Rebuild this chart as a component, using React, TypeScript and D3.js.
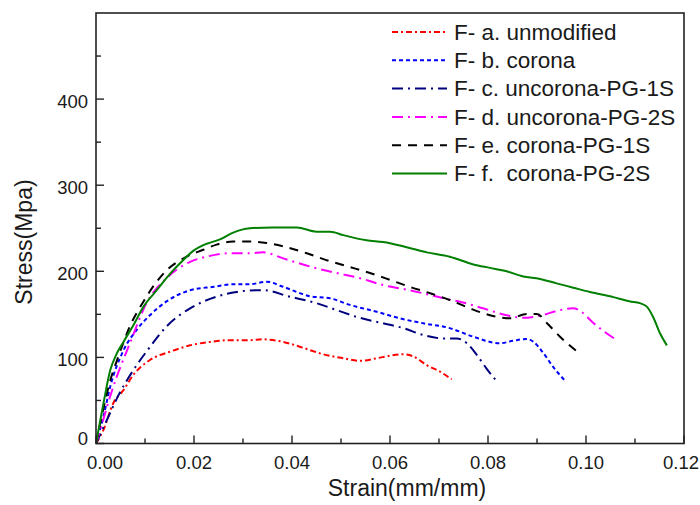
import React from "react";
import * as d3 from "d3";

// ---- data ----
const seriesNames = [
  "F- a. unmodified",
  "F- b. corona",
  "F- c. uncorona-PG-1S",
  "F- d. uncorona-PG-2S",
  "F- e. corona-PG-1S",
  "F- f.  corona-PG-2S",
];

const strainA = [0, 0.0015, 0.0035, 0.0056, 0.0076, 0.011, 0.0151, 0.0192, 0.0233, 0.0273, 0.0314, 0.0341, 0.0382, 0.0416, 0.0464, 0.0505, 0.0539, 0.0573, 0.06, 0.0627, 0.0648, 0.0675, 0.0702, 0.0726];
const stressA = [0, 15.5, 46.5, 62, 79.5, 97, 106.6, 114, 118, 120, 120, 121, 118, 112.4, 103.6, 99, 96, 99, 102, 103.6, 101, 91, 83.4, 74.6];

const strainB = [0, 0.0015, 0.0029, 0.0056, 0.0083, 0.011, 0.0144, 0.0192, 0.024, 0.028, 0.0314, 0.0348, 0.0382, 0.0437, 0.0478, 0.0518, 0.0573, 0.062, 0.0668, 0.0722, 0.077, 0.0824, 0.0852, 0.0879, 0.0893, 0.0913, 0.0933, 0.0957];
const stressB = [0, 31, 66, 108, 132, 149, 165, 178, 182, 185, 185, 188, 182, 171, 168.6, 161, 153, 145.4, 139.6, 134, 124, 116.4, 119.4, 121.4, 118, 105, 89, 73];

const strainC = [0, 0.0022, 0.0045, 0.0076, 0.011, 0.0144, 0.0192, 0.0246, 0.0287, 0.0328, 0.0341, 0.0396, 0.045, 0.0491, 0.0532, 0.0586, 0.0627, 0.0668, 0.0709, 0.0736, 0.0757, 0.0777, 0.0797, 0.0818];
const stressC = [0, 27, 55, 85, 112, 136, 157, 170.5, 176, 178, 178, 170.5, 163, 155, 147, 139.6, 134, 126, 122, 122, 116.4, 103, 87, 72];

const strainD = [0, 0.0015, 0.0029, 0.0042, 0.0069, 0.0103, 0.0144, 0.0192, 0.0226, 0.0273, 0.0314, 0.0341, 0.0382, 0.045, 0.0491, 0.0539, 0.0586, 0.064, 0.0682, 0.0722, 0.0743, 0.079, 0.0838, 0.0872, 0.0906, 0.0947, 0.0974, 0.0988, 0.1015, 0.1042, 0.1063];
const stressD = [0, 28, 55, 77, 116, 163, 192, 211, 217, 221, 221, 222, 215, 203.5, 198, 192, 184, 178, 172.5, 167, 164.7, 157, 149, 146, 148.4, 155, 157, 154, 140, 128, 120];

const strainE = [0, 0.0015, 0.003, 0.0045, 0.0069, 0.0097, 0.0124, 0.0144, 0.0185, 0.0219, 0.0246, 0.028, 0.0314, 0.0348, 0.0382, 0.043, 0.047, 0.0518, 0.0559, 0.06, 0.064, 0.0682, 0.0722, 0.0763, 0.0804, 0.0845, 0.0879, 0.09, 0.092, 0.0947, 0.0988];
const stressE = [0, 40, 75, 100, 136, 165, 188, 201, 217, 225, 231, 234.5, 234.5, 233, 229, 221, 213, 205, 198, 190, 182, 174.5, 166.7, 157, 149, 145.5, 150.5, 150.5, 140, 124, 104];

const strainF = [0, 0.0015, 0.0029, 0.0042, 0.0056, 0.0076, 0.0097, 0.0124, 0.0151, 0.0171, 0.0199, 0.0226, 0.0253, 0.028, 0.0314, 0.036, 0.041, 0.045, 0.0478, 0.0505, 0.0552, 0.0586, 0.0634, 0.0675, 0.0722, 0.077, 0.0804, 0.0838, 0.0872, 0.0899, 0.094, 0.0974, 0.1008, 0.1056, 0.109, 0.111, 0.1124, 0.1137, 0.1151, 0.1165];
const stressF = [0, 46, 85, 104, 118, 137, 159, 178, 197, 209, 224, 232, 237, 245, 250, 251, 251, 246, 246, 242, 236, 234, 228, 222, 217, 208, 204, 200, 194, 192, 186, 181, 176, 170, 165, 163, 159, 147, 128, 114];

const xTicks = [0, 0.02, 0.04, 0.06, 0.08, 0.1, 0.12];
const xTickLabels = ["0.00", "0.02", "0.04", "0.06", "0.08", "0.10", "0.12"];
const xMinorTicks = [0.01, 0.03, 0.05, 0.07, 0.09, 0.11];
const yTicks = [0, 100, 200, 300, 400];
const yMinorTicks = [50, 150, 250, 350, 450];

const strains = [strainA, strainB, strainC, strainD, strainE, strainF];
const stresses = [stressA, stressB, stressC, stressD, stressE, stressF];

// ---- styles ----
const colors = ["#ff0000", "#0000ff", "#00007f", "#ff00ff", "#000000", "#007f00"];
const dashes = ["6,3,2,3", "4,3", "11,5,2,5", "11,5,2,5", "9,7", "none"];

export default function App() {
  const W = 700, H = 505;
  const left = 96, right = 684, top = 13, bottom = 443.5;
  const x = d3.scaleLinear().domain([0, 0.12]).range([left, right]);
  const y = d3.scaleLinear().domain([0, 500]).range([bottom, top]);
  const line = d3
    .line<[number, number]>()
    .x((d) => x(d[0]))
    .y((d) => y(d[1]))
    .curve(d3.curveMonotoneX);

  const font = "'Liberation Sans', Arial, sans-serif";
  const textColor = "#1a1a1a";
  const n = xTicks.length;

  return (
    <svg
      width={W}
      height={H}
      style={{ position: "absolute", left: 0, top: 0, background: "#fff" }}
      fontFamily={font}
    >
      <rect x={0} y={0} width={W} height={H} fill="#fff" />
      <defs>
        <clipPath id="plotclip">
          <rect x={left} y={top} width={right - left} height={bottom - top} />
        </clipPath>
      </defs>

      {/* curves */}
      <g clipPath="url(#plotclip)">
        {strains.map((xs, i) => {
          const pts: [number, number][] = xs.map((v, j) => [v, stresses[i][j]]);
          return (
            <path
              key={i}
              d={line(pts) || ""}
              fill="none"
              stroke={colors[i]}
              strokeWidth={2}
              strokeDasharray={dashes[i]}
              strokeLinejoin="round"
            />
          );
        })}
      </g>

      {/* frame */}
      <rect
        x={left}
        y={top}
        width={right - left}
        height={bottom - top}
        fill="none"
        stroke="#222"
        strokeWidth={1.6}
      />

      {/* x ticks */}
      {xTicks.map((t, i) => (
        <g key={"xt" + i}>
          <line x1={x(t)} x2={x(t)} y1={bottom} y2={bottom - 8} stroke="#222" strokeWidth={1.4} />
          <text
            x={x(t) + (i === 0 ? 9 : i === n - 1 ? -3 : 0)}
            y={469}
            textAnchor="middle"
            fontSize={18.5}
            fill={textColor}
          >
            {xTickLabels[i]}
          </text>
        </g>
      ))}
      {xMinorTicks.map((t, i) => (
        <line key={"xm" + i} x1={x(t)} x2={x(t)} y1={bottom} y2={bottom - 5} stroke="#222" strokeWidth={1.4} />
      ))}

      {/* y ticks */}
      {yTicks.map((t, i) => (
        <g key={"yt" + i}>
          <line x1={left} x2={left + 8} y1={y(t)} y2={y(t)} stroke="#222" strokeWidth={1.4} />
          <text
            x={88}
            y={y(t) + (t === 0 ? 1 : 9)}
            textAnchor="end"
            fontSize={18.5}
            fill={textColor}
          >
            {t}
          </text>
        </g>
      ))}
      {yMinorTicks.map((t, i) => (
        <line key={"ym" + i} x1={left} x2={left + 5} y1={y(t)} y2={y(t)} stroke="#222" strokeWidth={1.4} />
      ))}

      {/* axis titles */}
      <text x={407} y={496} textAnchor="middle" fontSize={23} fill={textColor}>
        Strain(mm/mm)
      </text>
      <text
        transform="translate(32,242) rotate(-90)"
        textAnchor="middle"
        fontSize={23}
        fill={textColor}
      >
        Stress(Mpa)
      </text>

      {/* legend */}
      {seriesNames.map((name, i) => {
        const cy = 32 + i * 28.3;
        return (
          <g key={"lg" + i}>
            <line
              x1={392}
              x2={447}
              y1={cy}
              y2={cy}
              stroke={colors[i]}
              strokeWidth={2}
              strokeDasharray={dashes[i]}
            />
            <text
              x={454}
              y={cy + 7.8}
              fontSize={22.5}
              fill={textColor}
              style={{ whiteSpace: "pre" }}
            >
              {name}
            </text>
          </g>
        );
      })}
    </svg>
  );
}
